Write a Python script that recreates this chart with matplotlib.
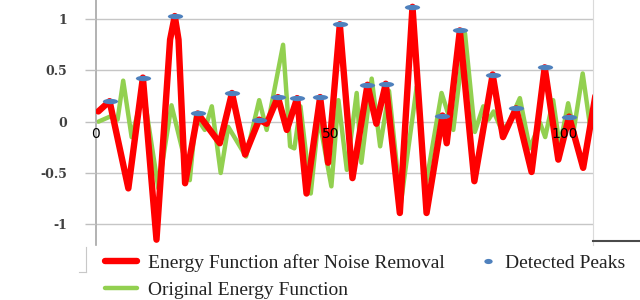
import numpy as np
import matplotlib
matplotlib.use("Agg")
import matplotlib.pyplot as plt
from matplotlib.path import Path
from matplotlib.transforms import Affine2D
from matplotlib.lines import Line2D

# ---------------- data ----------------
red_x = [0.5, 2.9, 6.9, 10.0, 12.9, 15.8, 16.8, 17.6, 19.0, 21.7, 26.4, 29.0, 31.8, 34.8, 36.4,
         38.8, 40.7, 42.9, 44.9, 47.8, 49.5, 52.0, 54.7, 57.9, 59.8, 61.8, 64.8, 67.5,
         70.5, 73.9, 74.8, 77.6, 80.7, 84.6, 86.8, 89.6, 92.9, 95.7, 98.6, 100.9, 103.9, 106.5]
red_y = [0.10, 0.20, -0.65, 0.43, -1.15, 0.80, 1.03, 0.80, -0.60, 0.08, -0.21, 0.28, -0.32, 0.02, -0.02,
         0.24, -0.08, 0.23, -0.70, 0.24, -0.40, 0.95, -0.55, 0.36, -0.02, 0.37, -0.89, 1.12,
         -0.89, 0.06, -0.21, 0.89, -0.58, 0.46, -0.15, 0.13, -0.49, 0.53, -0.37, 0.05, -0.45, 0.25]

green_x = [0.5, 3.0, 4.6, 5.8, 7.6, 10.1, 13.3, 16.1, 20.0, 21.3, 23.2, 24.7, 26.6, 28.2,
           32.0, 34.8, 36.4, 39.9, 41.4, 42.3, 43.6, 45.8, 47.5, 50.2, 51.7, 53.5, 55.6,
           56.6, 58.8, 60.6, 62.5, 65.0, 68.4, 70.3, 73.7, 76.2, 78.7, 80.8, 82.6, 83.7,
           84.8, 86.5, 88.0, 90.4, 92.5, 94.7, 95.8, 97.5, 98.9, 100.7, 101.9, 103.8, 105.4, 106.5]
green_y = [0.00, 0.05, 0.02, 0.40, -0.15, 0.30, -0.65, 0.16, -0.57, 0.05, -0.08, 0.15, -0.50, -0.05,
           -0.34, 0.21, -0.08, 0.75, -0.24, -0.26, 0.15, -0.70, 0.05, -0.63, 0.21, -0.47, 0.28,
           -0.40, 0.42, -0.24, 0.30, -0.80, 0.34, -0.63, 0.28, -0.08, 0.86, -0.10, 0.15, 0.02,
           0.10, -0.08, -0.02, 0.23, -0.26, -0.01, -0.15, 0.21, -0.24, 0.18, -0.08, 0.47, -0.05, 0.10]

peak_x = [2.9, 10.0, 16.8, 21.7, 29.0, 34.8, 38.8, 42.9, 47.8, 52.0, 57.9, 61.8, 67.5,
          73.9, 77.6, 84.6, 89.6, 95.7, 100.9]
peak_y = [0.20, 0.43, 1.03, 0.08, 0.28, 0.02, 0.24, 0.23, 0.24, 0.95, 0.36, 0.37, 1.12,
          0.06, 0.89, 0.46, 0.13, 0.53, 0.05]

y_ticks = [-1, -0.5, 0, 0.5, 1]
y_tick_labels = ["-1", "-0.5", "0", "0.5", "1"]
x_ticks = [0, 50, 100]
x_tick_labels = ["0", "50", "100"]

label_red = "Energy Function after Noise Removal"
label_green = "Original Energy Function"
label_peaks = "Detected Peaks"

# ---------------- figure ----------------
W, H = 640, 300
fig = plt.figure(figsize=(W / 100, H / 100), dpi=100)
fig.patch.set_facecolor("white")

def px(x, y):
    return x / W, 1 - y / H

ax = fig.add_axes([96 / W, 1 - 244.8 / H, (593 - 96) / W, 246.2 / H])
ax.set_xlim(0, 106)
ax.set_ylim(-1.2, 1.2)
ax.set_axisbelow(False)

tick_font = dict(family="DejaVu Serif", weight="bold", size=9)

ax.set_yticks(y_ticks)
ax.set_yticklabels(y_tick_labels, fontdict=tick_font, color="#404040")
ax.set_xticks(x_ticks)
ax.set_xticklabels(x_tick_labels, fontdict=tick_font, color="#333333")

ax.tick_params(axis="y", direction="out", length=8, width=1.0, color="#BFBFBF", pad=13)
ax.tick_params(axis="x", length=0, pad=4)

# horizontal gridlines below the data
for yv in y_ticks:
    ax.axhline(yv, color="#C6C6C6", linewidth=1.0, zorder=0.5)

ax.spines["bottom"].set_position(("data", 0))
ax.spines["bottom"].set_visible(False)
ax.spines["top"].set_visible(False)
ax.spines["left"].set_color("#A6A6A6")
ax.spines["left"].set_linewidth(1.2)
ax.spines["right"].set_color("#DADADA")
ax.spines["right"].set_linewidth(0.8)
ax.xaxis.set_zorder(3.5)
ax.yaxis.set_zorder(2.5)

# ellipse markers (wide dots)
ell = Affine2D().scale(1.0, 0.35).transform_path(Path.unit_circle())
ell_leg = Affine2D().scale(1.0, 0.62).transform_path(Path.unit_circle())

g_line, = ax.plot(green_x, green_y, color="#92D050", linewidth=3.2,
                  solid_joinstyle="round", solid_capstyle="round", zorder=2,
                  label=label_green)
r_line, = ax.plot(red_x, red_y, color="#FF0000", linewidth=4.6,
                  solid_joinstyle="round", solid_capstyle="round", zorder=3,
                  label=label_red)
p_line, = ax.plot(peak_x, peak_y, linestyle="none", marker=ell, markersize=11,
                  color="#4F81BD", markeredgewidth=0, zorder=4, label=label_peaks)

legend_font = dict(family="Liberation Serif", size=14)

leg1 = fig.legend(handles=[r_line, g_line], labels=[label_red, label_green],
                  loc="upper left", bbox_to_anchor=px(105, 254),
                  bbox_transform=fig.transFigure, frameon=False,
                  prop=legend_font, borderpad=0, borderaxespad=0,
                  handlelength=1.65, handletextpad=0.57, labelspacing=0.48)
for t in leg1.get_texts():
    t.set_color("#222222")

p_handle = Line2D([], [], linestyle="none", marker=ell_leg, markersize=6,
                  color="#4F81BD", markeredgewidth=0)
leg2 = fig.legend(handles=[p_handle], labels=[label_peaks],
                  loc="upper left", bbox_to_anchor=px(478, 254),
                  bbox_transform=fig.transFigure, frameon=False,
                  prop=legend_font, borderpad=0, borderaxespad=0,
                  handlelength=1.0, handletextpad=0.4)
for t in leg2.get_texts():
    t.set_color("#222222")

# frame fragments of the screenshot
fig.add_artist(Line2D([593 / W, 1.0], [1 - 241 / H, 1 - 241 / H],
                      transform=fig.transFigure, color="#4A4A4A", linewidth=1.5))
fig.add_artist(Line2D([86 / W, 86 / W], [1 - 247 / H, 1 - 272 / H],
                      transform=fig.transFigure, color="#C8C8C8", linewidth=0.8))
fig.add_artist(Line2D([79 / W, 86 / W], [1 - 272 / H, 1 - 272 / H],
                      transform=fig.transFigure, color="#C8C8C8", linewidth=0.8))

fig.savefig("out.png", dpi=100, facecolor="white")
